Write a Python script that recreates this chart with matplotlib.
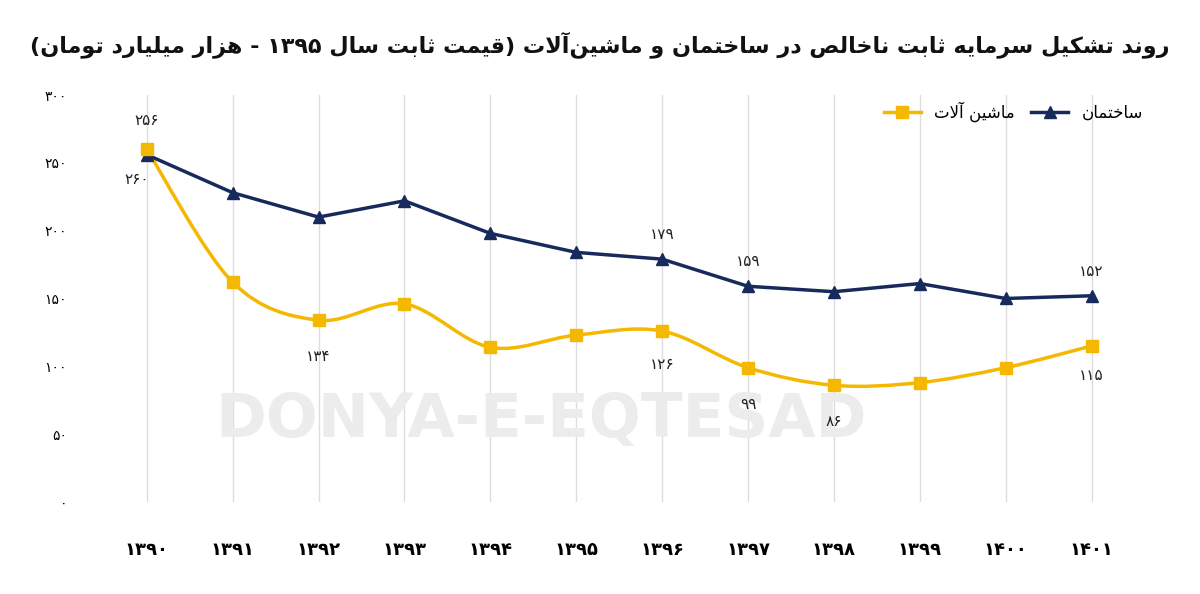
import unicodedata, matplotlib
matplotlib.use("Agg")
import matplotlib.pyplot as plt
from matplotlib.path import Path
from matplotlib.patches import PathPatch

years = ["1390","1391","1392","1393","1394","1395","1396","1397","1398","1399","1400","1401"]
building = [256,228,210,222,198,184,179,159,155,161,150,152]
machinery = [260,162,134,146,114,123,126,99,86,88,99,115]
yticks = [0,50,100,150,200,250,300]

NAMES = {}
for ch in "ابپتثجچحخدذرزژسشصضطظعغفقکگلمنوهیآئؤةكيء":
    NAMES[ch] = unicodedata.name(ch).replace("ARABIC LETTER ", "")
def form(ch, f):
    n = NAMES.get(ch)
    if n is None: return None
    try: return unicodedata.lookup("ARABIC LETTER %s %s FORM" % (n, f))
    except KeyError: return None
def joins_left(ch):
    return form(ch, "INITIAL") is not None
def is_letter(ch): return ch in NAMES
PDIG = "۰۱۲۳۴۵۶۷۸۹"
def fa(s): return "".join(PDIG[int(c)] if c.isdigit() else c for c in s)
def shape(s):
    out = []
    chars = list(s)
    i = 0
    while i < len(chars):
        c = chars[i]
        prev = chars[i-1] if i > 0 else ""
        nxt = chars[i+1] if i+1 < len(chars) else ""
        pj = is_letter(prev) and joins_left(prev)
        if c == "ل" and nxt in "اآ":
            base = "ARABIC LIGATURE LAM WITH ALEF" + (" WITH MADDA ABOVE" if nxt == "آ" else "")
            out.append(unicodedata.lookup(base + (" FINAL FORM" if pj else " ISOLATED FORM")))
            i += 2; continue
        if not is_letter(c):
            if c != "\u200c": out.append(c)
            i += 1; continue
        nj = is_letter(nxt) and joins_left(c)
        if pj and nj: f = "MEDIAL"
        elif pj: f = "FINAL"
        elif nj: f = "INITIAL"
        else: f = "ISOLATED"
        out.append(form(c, f) or form(c, "ISOLATED") or c)
        i += 1
    toks, cur = [], ""
    for ch in out:
        if ch in PDIG or ch.isdigit():
            cur += ch
        else:
            if cur: toks.append(cur); cur = ""
            toks.append({"(": ")", ")": "("}.get(ch, ch))
    if cur: toks.append(cur)
    return "".join(reversed(toks))

NAVY = "#172a5c"; YEL = "#f5b800"
fig, ax = plt.subplots(figsize=(12, 5.94), dpi=100)
fig.subplots_adjust(left=0.108, right=0.924, top=0.84, bottom=0.155)
x = list(range(len(years)))
for xi in x: ax.axvline(xi, color="#dddddd", lw=1, zorder=0)

ax.text(0.42, 0.2, "DONYA-E-EQTESAD", transform=ax.transAxes, fontsize=44, fontweight="bold",
        color="#ececec", ha="center", va="center", zorder=0.5)

ax.plot(x, building, color=NAVY, lw=2.5, marker="^", ms=8, zorder=3)
verts = [(x[0], machinery[0])]; codes = [Path.MOVETO]
P = list(zip(x, machinery))
for i in range(len(P)-1):
    p0 = P[i-1] if i > 0 else P[i]; p1 = P[i]; p2 = P[i+1]; p3 = P[i+2] if i+2 < len(P) else P[i+1]
    c1 = (p1[0]+(p2[0]-p0[0])/6, p1[1]+(p2[1]-p0[1])/6)
    c2 = (p2[0]-(p3[0]-p1[0])/6, p2[1]-(p3[1]-p1[1])/6)
    verts += [c1, c2, p2]; codes += [Path.CURVE4]*3
ax.add_patch(PathPatch(Path(verts, codes), fc="none", ec=YEL, lw=2.5, zorder=2))
ax.plot(x, machinery, ls="none", color=YEL, marker="s", ms=8, zorder=3)

lab = dict(fontsize=11, color="#222222", ha="center", va="center")
ax.text(0, 281, fa("256"), **lab)
ax.text(-0.12, 238, fa("260"), **lab)
for i in [6, 7, 11]:
    ax.text(i, building[i]+18, fa(str(building[i])), **lab)
for i in [2, 7, 8]:
    ax.text(i, machinery[i]-27, fa(str(machinery[i])), **lab)
ax.text(6, machinery[6]-25, fa("126"), **lab)
ax.text(11, machinery[11]-22, fa("115"), **lab)

ax.set_xlim(-0.2, 11.2); ax.set_ylim(0, 300)
ax.set_yticks(yticks); ax.set_yticklabels([fa(str(t)) for t in yticks], fontsize=10)
ax.set_xticks(x); ax.set_xticklabels([fa(y) for y in years], fontsize=13, fontweight="bold")
for s in ax.spines.values(): s.set_visible(False)
ax.tick_params(length=0)
ax.tick_params(axis="y", pad=45)
ax.tick_params(axis="x", pad=28)

from matplotlib.lines import Line2D
h = [Line2D([], [], color=YEL, lw=2.5, marker="s", ms=8), Line2D([], [], color=NAVY, lw=2.5, marker="^", ms=8)]
ax.legend(h, [shape("ماشین آلات"), shape("ساختمان")], loc="upper right", ncol=2, frameon=False,
          fontsize=12, bbox_to_anchor=(1.05, 1.02), markerfirst=True, handlelength=2.2, columnspacing=1.0)

fig.text(0.975, 0.925, shape("روند تشکیل سرمایه ثابت ناخالص در ساختمان و ماشین‌آلات (قیمت ثابت سال ۱۳۹۵ - هزار میلیارد تومان)"),
         ha="right", va="center", fontsize=16, fontweight="bold", color="#111111")
fig.savefig("out.png", dpi=100)
